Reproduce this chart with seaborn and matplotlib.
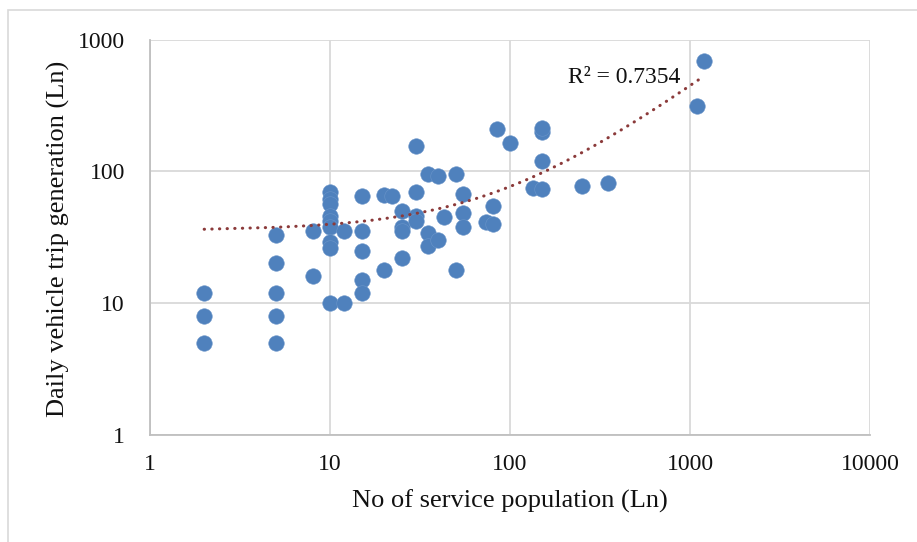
import numpy as np
import pandas as pd
import matplotlib
matplotlib.use("Agg")
import matplotlib.pyplot as plt
import seaborn as sns
from matplotlib.patches import Rectangle

# Service population vs. daily vehicle trip generation
service_population = [2, 2, 2,
                      5, 5, 5, 5, 5,
                      8, 8,
                      10, 10, 10, 10, 10, 10, 10, 10, 10,
                      12, 12,
                      15, 15, 15, 15, 15,
                      20, 22, 20,
                      25, 25, 25, 25,
                      30, 30, 30, 30,
                      35, 40, 35, 35, 40, 43,
                      50, 50,
                      55, 55, 55,
                      74, 80, 80,
                      85, 100,
                      135, 150, 150, 150, 150,
                      250, 350,
                      1100, 1200]
trip_generation = [12, 8, 5,
                   33, 20, 12, 8, 5,
                   35, 16,
                   70, 62, 57, 46, 42, 38, 29, 26, 10,
                   35, 10,
                   65, 35, 25, 15, 12,
                   66, 65, 18,
                   50, 38, 35, 22,
                   156, 70, 46, 42,
                   95, 92, 34, 27, 30, 45,
                   96, 18,
                   67, 48, 38,
                   41, 40, 55,
                   210, 165,
                   75, 73, 120, 200, 215,
                   78, 81,
                   315, 690]

x_ticks = [1, 10, 100, 1000, 10000]
y_ticks = [1, 10, 100, 1000]
r2_label = "R² = 0.7354"

df = pd.DataFrame({"pop": service_population, "trips": trip_generation})

sns.set_theme(style="white")
plt.rcParams["font.family"] = ["Liberation Serif", "DejaVu Serif"]

fig = plt.figure(figsize=(9.17, 5.42), dpi=100)
ax = fig.add_axes([150 / 917, 1 - 435 / 542, 720 / 917, 395.5 / 542])

# chart-area frame
fig.patches.append(Rectangle((8 / 917, -0.1), 1.2, 1 - 10 / 542 + 0.1,
                             transform=fig.transFigure, fill=False,
                             edgecolor="#d9d9d9", linewidth=1.2, zorder=0))

ax.set_xscale("log")
ax.set_yscale("log")
ax.set_xlim(1, 10000)
ax.set_ylim(1, 1000)

sns.scatterplot(data=df, x="pop", y="trips", ax=ax, s=125,
                color="#4f81bd", edgecolor="#6a95c9", linewidth=0.4,
                zorder=3, legend=False)

# linear least-squares trendline (drawn over the data range)
slope, intercept = np.polyfit(df["pop"], df["trips"], 1)
xs = np.linspace(min(service_population), max(service_population), 400)
ax.plot(xs, slope * xs + intercept, color="#8b3a3a", linewidth=2.2,
        linestyle=(0, (0.1, 2.4)), dash_capstyle="round", zorder=4)

ax.text(0.658, 0.905, r2_label, transform=ax.transAxes, ha="center",
        va="center", fontsize=17, color="#111111")

ax.set_xticks(x_ticks)
ax.set_xticklabels([str(v) for v in x_ticks])
ax.set_yticks(y_ticks)
ax.set_yticklabels([str(v) for v in y_ticks])
ax.minorticks_off()
ax.tick_params(axis="x", length=0, pad=13.5, labelsize=17, colors="#111111")
ax.tick_params(axis="y", length=0, pad=18, labelsize=17, colors="#111111")

ax.grid(True, which="major", color="#d9d9d9", linewidth=1.3)
ax.set_axisbelow(True)
for side in ["top", "right"]:
    ax.spines[side].set_visible(False)
for side in ["left", "bottom"]:
    ax.spines[side].set_color("#bfbfbf")
    ax.spines[side].set_linewidth(1.3)

ax.set_xlabel("No of service population (Ln)", fontsize=19, color="#111111")
ax.set_ylabel("Daily vehicle trip generation (Ln)", fontsize=19,
              color="#111111")
ax.xaxis.set_label_coords(0.5, (435 - 501) / 395.5)
ax.xaxis.label.set_verticalalignment("center")
ax.yaxis.set_label_coords((58 - 150) / 720, (435 - 238.5) / 395.5)
ax.yaxis.label.set_verticalalignment("center")

fig.savefig("out.png", dpi=100)
